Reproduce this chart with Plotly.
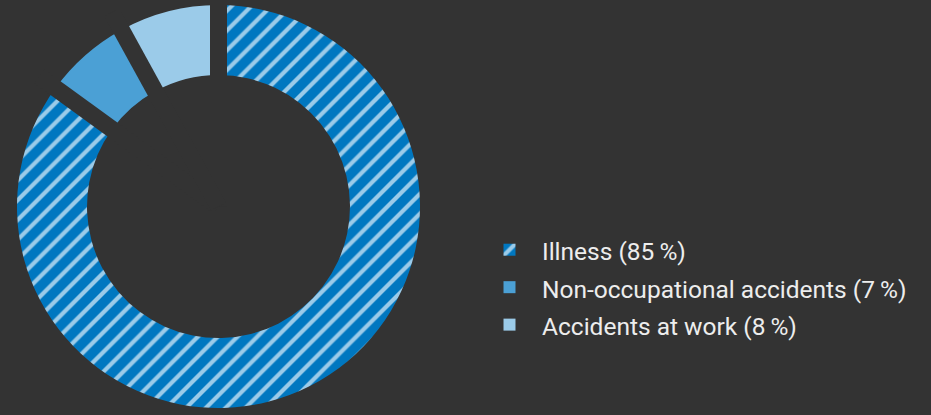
import math
import plotly.graph_objects as go

labels = ["Illness (85\u2009%)", "Non-occupational accidents (7\u2009%)", "Accidents at work (8\u2009%)"]
values = [85, 7, 8]
colors = ["#0077C0", "#4BA0D5", "#9BCBE9"]
patterns = ["/", "", ""]
stripe_color = "#9BCBE9"
bg = "#333333"

W, H = 931, 415
cx_px, cy_px, r_px = 218.5, 206.5, 201.5

fig = go.Figure(go.Pie(
    labels=[f'<span style="font-size:24.5px">{t}</span>' for t in labels],
    values=values,
    sort=False,
    direction="clockwise",
    rotation=0,
    hole=131.5 / 201.5,
    textinfo="none",
    hoverinfo="label",
    marker=dict(
        colors=colors,
        line=dict(width=0, color=bg),
        pattern=dict(shape=patterns, fgcolor=stripe_color, bgcolor=colors,
                     fillmode="replace", size=14, solidity=0.3),
    ),
    domain=dict(x=[(cx_px - r_px) / W, (cx_px + r_px) / W],
                y=[(H - cy_px - r_px) / H, (H - cy_px + r_px) / H]),
))

# gaps between slices (background-coloured separators at slice boundaries)
total = sum(values)
cum = 0
shapes = []
for v in values:
    ang = 2 * math.pi * cum / total
    L = r_px + 20
    x0, y0 = cx_px / W, (H - cy_px) / H
    x1 = (cx_px + L * math.sin(ang)) / W
    y1 = (H - cy_px + L * math.cos(ang)) / H
    shapes.append(dict(type="line", xref="paper", yref="paper", x0=x0, y0=y0, x1=x1, y1=y1,
                       line=dict(color=bg, width=17), layer="above"))
    cum += v

fig.update_layout(
    width=W, height=H,
    margin=dict(l=0, r=0, t=0, b=0),
    paper_bgcolor=bg, plot_bgcolor=bg,
    shapes=shapes,
    showlegend=True,
    legend=dict(
        x=477 / W, y=(H - 226) / H, xanchor="left", yanchor="top",
        font=dict(family="Roboto", size=26.5, color="#EDEDED"),
        bgcolor="rgba(0,0,0,0)",
        itemwidth=55,
    ),
)

fig.write_html("out.html")
